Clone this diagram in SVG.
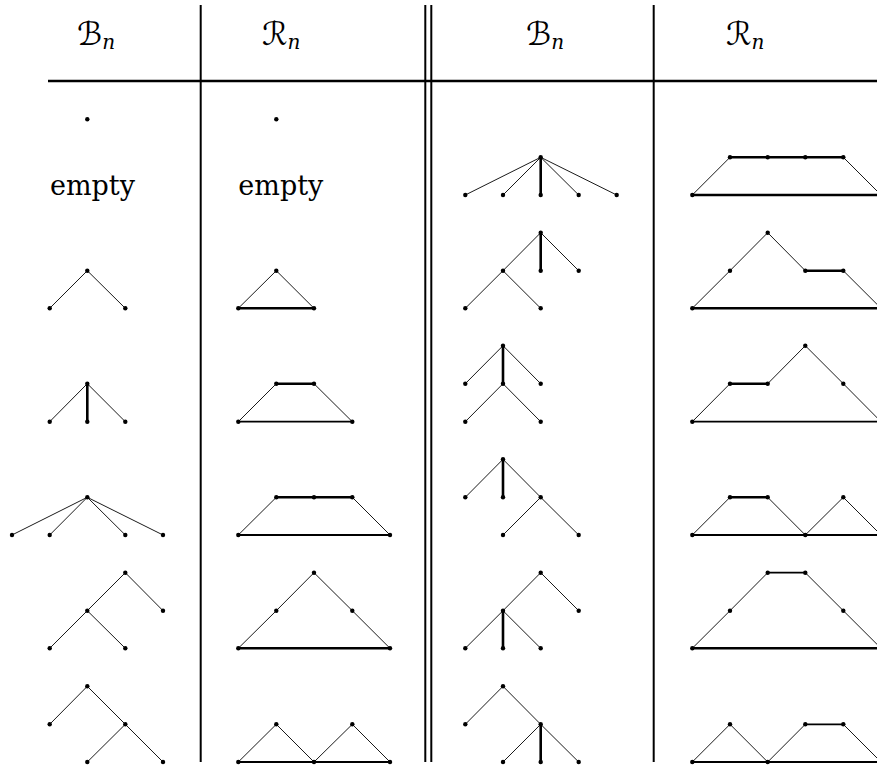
<svg xmlns="http://www.w3.org/2000/svg" width="877" height="768" viewBox="0 0 877 768">
<style>
.t{stroke:#000;stroke-width:0.9;fill:none;stroke-linecap:round;stroke-linejoin:round}
.m{stroke:#000;stroke-width:1.8;fill:none;stroke-linecap:round}
.k{stroke:#000;stroke-width:2.6;fill:none;stroke-linecap:round}
.g{stroke:#000;stroke-width:2;fill:none}
.d{fill:#000}
.h{font-family:"DejaVu Sans",sans-serif;font-size:32px}
.s{font-family:"DejaVu Serif","Liberation Serif",serif;font-size:20px;font-style:italic}
.e{font-family:"DejaVu Serif","Liberation Serif",serif;font-size:27px}
</style>
<rect width="877" height="768" fill="#fff"/>
<g id="grid">
<line class="g" x1="200.7" y1="5" x2="200.7" y2="762"/>
<line class="g" x1="425.3" y1="5" x2="425.3" y2="762"/>
<line class="g" x1="431.3" y1="5" x2="431.3" y2="762"/>
<line class="g" x1="653.7" y1="5" x2="653.7" y2="762"/>
<line stroke="#000" stroke-width="2.6" x1="48" y1="81" x2="877" y2="81"/>
</g>
<g id="headers">
<text class="h" x="77" y="45">ℬ<tspan class="s" dy="4">n</tspan></text>
<text class="h" x="262" y="45">ℛ<tspan class="s" dy="4">n</tspan></text>
<text class="h" x="526" y="45">ℬ<tspan class="s" dy="4">n</tspan></text>
<text class="h" x="726" y="45">ℛ<tspan class="s" dy="4">n</tspan></text>
</g>
<g id="connectors">
<polyline class="t" points="49.7,308.3 87.3,270.7 125.3,308.3"/>
<polyline class="t" points="49.7,421.7 87.3,383.7 125.3,421.7"/>
<line class="k" x1="87.3" y1="383.7" x2="87.3" y2="421.7"/>
<path class="t" d="M87.3,497.3L12,535M87.3,497.3L49.7,535M87.3,497.3L125.3,535M87.3,497.3L163,535"/>
<path class="t" d="M49.7,648.3L87.3,610.7L125.3,572.7L163,610.7M87.3,610.7L125.3,648.3"/>
<path class="t" d="M49.7,724.3L87.3,686.3L125.3,724.3L163,762M125.3,724.3L87.3,762"/>
<polyline class="t" points="238.3,308.3 276.3,270.7 314,308.3"/>
<line class="k" x1="238.3" y1="308.3" x2="314" y2="308.3"/>
<path class="t" d="M238.3,421.7L276.3,383.7M314,383.7L352.3,421.7"/>
<line class="k" x1="276.3" y1="383.7" x2="314" y2="383.7"/>
<line class="m" x1="238.3" y1="421.7" x2="352.3" y2="421.7"/>
<path class="t" d="M238.3,535L276.3,497.3M352.3,497.3L390,535"/>
<line class="k" x1="276.3" y1="497.3" x2="352.3" y2="497.3"/>
<line class="m" x1="238.3" y1="535" x2="390" y2="535"/>
<polyline class="t" points="238.3,648.3 276.3,610.7 314,572.7 352.3,610.7 390,648.3"/>
<line class="k" x1="238.3" y1="648.3" x2="390" y2="648.3"/>
<polyline class="t" points="238.3,762 276.3,724.3 314,762 352.3,724.3 390,762"/>
<line class="m" x1="238.3" y1="762" x2="390" y2="762"/>
<path class="t" d="M540.7,157.3L465.3,195M540.7,157.3L503,195M540.7,157.3L578.7,195M540.7,157.3L616.7,195"/>
<line class="k" x1="540.7" y1="157.3" x2="540.7" y2="195"/>
<path class="t" d="M578.7,270.7L540.7,232.7L503,270.7L465.3,308.3M503,270.7L540.7,308.3"/>
<line class="k" x1="540.7" y1="232.7" x2="540.7" y2="270.7"/>
<path class="t" d="M465.3,383.7L503,345.7L540.7,383.7M465.3,421.7L503,383.7L540.7,421.7"/>
<line class="k" x1="503" y1="345.7" x2="503" y2="383.7"/>
<path class="t" d="M465.3,497.3L503,459.3L540.7,497.3L578.7,535M540.7,497.3L503,535"/>
<line class="k" x1="503" y1="459.3" x2="503" y2="497.3"/>
<path class="t" d="M465.3,648.3L503,610.7L540.7,572.7L578.7,610.7M503,610.7L540.7,648.3"/>
<line class="k" x1="503" y1="610.7" x2="503" y2="648.3"/>
<path class="t" d="M465.3,724.3L503,686.3L540.7,724.3L578.7,762M540.7,724.3L503,762"/>
<line class="k" x1="540.7" y1="724.3" x2="540.7" y2="762"/>
<path class="t" d="M692.3,195L730,157.3M843.3,157.3L881,195"/>
<line class="k" x1="730" y1="157.3" x2="843.3" y2="157.3"/>
<line class="k" x1="692.3" y1="195" x2="881" y2="195"/>
<path class="t" d="M692.3,308.3L730,270.7L767.7,232.7L805.3,270.7M843.3,270.7L881,308.3"/>
<line class="k" x1="805.3" y1="270.7" x2="843.3" y2="270.7"/>
<line class="k" x1="692.3" y1="308.3" x2="881" y2="308.3"/>
<path class="t" d="M692.3,421.7L730,383.7M767.7,383.7L805.3,345.7L843.3,383.7L881,421.7"/>
<line class="k" x1="730" y1="383.7" x2="767.7" y2="383.7"/>
<line class="m" x1="692.3" y1="421.7" x2="881" y2="421.7"/>
<path class="t" d="M692.3,535L730,497.3M767.7,497.3L805.3,535L843.3,497.3L881,535"/>
<line class="k" x1="730" y1="497.3" x2="767.7" y2="497.3"/>
<line class="m" x1="692.3" y1="535" x2="881" y2="535"/>
<path class="t" d="M692.3,648.3L730,610.7L767.7,572.7M805.3,572.7L843.3,610.7L881,648.3"/>
<line class="m" x1="767.7" y1="572.7" x2="805.3" y2="572.7"/>
<line class="k" x1="692.3" y1="648.3" x2="881" y2="648.3"/>
<path class="t" d="M692.3,762L730,724.3L767.7,762L805.3,724.3M843.3,724.3L881,762"/>
<line class="m" x1="805.3" y1="724.3" x2="843.3" y2="724.3"/>
<line class="m" x1="692.3" y1="762" x2="881" y2="762"/>
</g>
<g id="c1r1"><circle class="d" cx="87.3" cy="119.3" r="2.2"/></g>
<g id="c1r2"><text class="e" x="50" y="195">empty</text></g>
<g id="c1r3"><circle class="d" cx="87.3" cy="270.7" r="2.2"/><circle class="d" cx="49.7" cy="308.3" r="2.2"/><circle class="d" cx="125.3" cy="308.3" r="2.2"/></g>
<g id="c1r4"><circle class="d" cx="87.3" cy="383.7" r="2.2"/><circle class="d" cx="49.7" cy="421.7" r="2.2"/><circle class="d" cx="87.3" cy="421.7" r="2.2"/><circle class="d" cx="125.3" cy="421.7" r="2.2"/></g>
<g id="c1r5"><circle class="d" cx="87.3" cy="497.3" r="2.2"/><circle class="d" cx="12" cy="535" r="2.2"/><circle class="d" cx="49.7" cy="535" r="2.2"/><circle class="d" cx="125.3" cy="535" r="2.2"/><circle class="d" cx="163" cy="535" r="2.2"/></g>
<g id="c1r6"><circle class="d" cx="125.3" cy="572.7" r="2.2"/><circle class="d" cx="87.3" cy="610.7" r="2.2"/><circle class="d" cx="163" cy="610.7" r="2.2"/><circle class="d" cx="49.7" cy="648.3" r="2.2"/><circle class="d" cx="125.3" cy="648.3" r="2.2"/></g>
<g id="c1r7"><circle class="d" cx="87.3" cy="686.3" r="2.2"/><circle class="d" cx="49.7" cy="724.3" r="2.2"/><circle class="d" cx="125.3" cy="724.3" r="2.2"/><circle class="d" cx="87.3" cy="762" r="2.2"/><circle class="d" cx="163" cy="762" r="2.2"/></g>
<g id="c2r1"><circle class="d" cx="276.3" cy="119.3" r="2.2"/></g>
<g id="c2r2"><text class="e" x="238.3" y="195">empty</text></g>
<g id="c2r3"><circle class="d" cx="276.3" cy="270.7" r="2.2"/><circle class="d" cx="238.3" cy="308.3" r="2.2"/><circle class="d" cx="314" cy="308.3" r="2.2"/></g>
<g id="c2r4"><circle class="d" cx="276.3" cy="383.7" r="2.2"/><circle class="d" cx="314" cy="383.7" r="2.2"/><circle class="d" cx="238.3" cy="421.7" r="2.2"/><circle class="d" cx="352.3" cy="421.7" r="2.2"/></g>
<g id="c2r5"><circle class="d" cx="276.3" cy="497.3" r="2.2"/><circle class="d" cx="314" cy="497.3" r="2.2"/><circle class="d" cx="352.3" cy="497.3" r="2.2"/><circle class="d" cx="238.3" cy="535" r="2.2"/><circle class="d" cx="390" cy="535" r="2.2"/></g>
<g id="c2r6"><circle class="d" cx="314" cy="572.7" r="2.2"/><circle class="d" cx="276.3" cy="610.7" r="2.2"/><circle class="d" cx="352.3" cy="610.7" r="2.2"/><circle class="d" cx="238.3" cy="648.3" r="2.2"/><circle class="d" cx="390" cy="648.3" r="2.2"/></g>
<g id="c2r7"><circle class="d" cx="238.3" cy="762" r="2.2"/><circle class="d" cx="276.3" cy="724.3" r="2.2"/><circle class="d" cx="314" cy="762" r="2.2"/><circle class="d" cx="352.3" cy="724.3" r="2.2"/><circle class="d" cx="390" cy="762" r="2.2"/></g>
<g id="c3r2"><circle class="d" cx="540.7" cy="157.3" r="2.2"/><circle class="d" cx="465.3" cy="195" r="2.2"/><circle class="d" cx="503" cy="195" r="2.2"/><circle class="d" cx="540.7" cy="195" r="2.2"/><circle class="d" cx="578.7" cy="195" r="2.2"/><circle class="d" cx="616.7" cy="195" r="2.2"/></g>
<g id="c3r3"><circle class="d" cx="540.7" cy="232.7" r="2.2"/><circle class="d" cx="503" cy="270.7" r="2.2"/><circle class="d" cx="540.7" cy="270.7" r="2.2"/><circle class="d" cx="578.7" cy="270.7" r="2.2"/><circle class="d" cx="465.3" cy="308.3" r="2.2"/><circle class="d" cx="540.7" cy="308.3" r="2.2"/></g>
<g id="c3r4"><circle class="d" cx="503" cy="345.7" r="2.2"/><circle class="d" cx="465.3" cy="383.7" r="2.2"/><circle class="d" cx="503" cy="383.7" r="2.2"/><circle class="d" cx="540.7" cy="383.7" r="2.2"/><circle class="d" cx="465.3" cy="421.7" r="2.2"/><circle class="d" cx="540.7" cy="421.7" r="2.2"/></g>
<g id="c3r5"><circle class="d" cx="503" cy="459.3" r="2.2"/><circle class="d" cx="465.3" cy="497.3" r="2.2"/><circle class="d" cx="503" cy="497.3" r="2.2"/><circle class="d" cx="540.7" cy="497.3" r="2.2"/><circle class="d" cx="503" cy="535" r="2.2"/><circle class="d" cx="578.7" cy="535" r="2.2"/></g>
<g id="c3r6"><circle class="d" cx="540.7" cy="572.7" r="2.2"/><circle class="d" cx="503" cy="610.7" r="2.2"/><circle class="d" cx="578.7" cy="610.7" r="2.2"/><circle class="d" cx="465.3" cy="648.3" r="2.2"/><circle class="d" cx="503" cy="648.3" r="2.2"/><circle class="d" cx="540.7" cy="648.3" r="2.2"/></g>
<g id="c3r7"><circle class="d" cx="503" cy="686.3" r="2.2"/><circle class="d" cx="465.3" cy="724.3" r="2.2"/><circle class="d" cx="540.7" cy="724.3" r="2.2"/><circle class="d" cx="503" cy="762" r="2.2"/><circle class="d" cx="540.7" cy="762" r="2.2"/><circle class="d" cx="578.7" cy="762" r="2.2"/></g>
<g id="c4r2"><circle class="d" cx="730" cy="157.3" r="2.2"/><circle class="d" cx="767.7" cy="157.3" r="2.2"/><circle class="d" cx="805.3" cy="157.3" r="2.2"/><circle class="d" cx="843.3" cy="157.3" r="2.2"/><circle class="d" cx="692.3" cy="195" r="2.2"/></g>
<g id="c4r3"><circle class="d" cx="767.7" cy="232.7" r="2.2"/><circle class="d" cx="730" cy="270.7" r="2.2"/><circle class="d" cx="805.3" cy="270.7" r="2.2"/><circle class="d" cx="843.3" cy="270.7" r="2.2"/><circle class="d" cx="692.3" cy="308.3" r="2.2"/></g>
<g id="c4r4"><circle class="d" cx="805.3" cy="345.7" r="2.2"/><circle class="d" cx="730" cy="383.7" r="2.2"/><circle class="d" cx="767.7" cy="383.7" r="2.2"/><circle class="d" cx="843.3" cy="383.7" r="2.2"/><circle class="d" cx="692.3" cy="421.7" r="2.2"/></g>
<g id="c4r5"><circle class="d" cx="730" cy="497.3" r="2.2"/><circle class="d" cx="767.7" cy="497.3" r="2.2"/><circle class="d" cx="843.3" cy="497.3" r="2.2"/><circle class="d" cx="692.3" cy="535" r="2.2"/><circle class="d" cx="805.3" cy="535" r="2.2"/></g>
<g id="c4r6"><circle class="d" cx="767.7" cy="572.7" r="2.2"/><circle class="d" cx="805.3" cy="572.7" r="2.2"/><circle class="d" cx="730" cy="610.7" r="2.2"/><circle class="d" cx="843.3" cy="610.7" r="2.2"/><circle class="d" cx="692.3" cy="648.3" r="2.2"/></g>
<g id="c4r7"><circle class="d" cx="730" cy="724.3" r="2.2"/><circle class="d" cx="805.3" cy="724.3" r="2.2"/><circle class="d" cx="843.3" cy="724.3" r="2.2"/><circle class="d" cx="692.3" cy="762" r="2.2"/><circle class="d" cx="767.7" cy="762" r="2.2"/></g>
</svg>
